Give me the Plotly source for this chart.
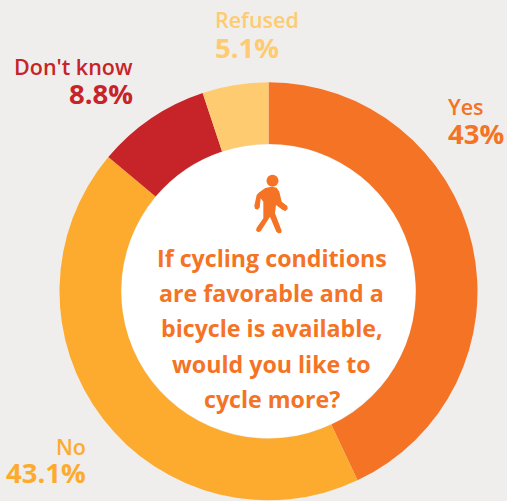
import plotly.graph_objects as go

categories = ["Yes", "No", "Don't know", "Refused"]
values = [43, 43.1, 8.8, 5.1]
value_labels = ["43%", "43.1%", "8.8%", "5.1%"]
colors = ["#F47324", "#FDAB2E", "#C62428", "#FECB71"]
question = ["If cycling conditions", "are favorable and a", "bicycle is available,", "would you like to", "cycle more?"]

W, H = 507, 501
FONT = "Open Sans"
ORANGE = colors[0]


def px(x):
    return x / W


def py(y):
    return 1 - y / H


fig = go.Figure(go.Pie(
    labels=categories, values=values, hole=0.705, sort=False, direction="clockwise",
    rotation=0, marker=dict(colors=colors, line=dict(width=0)), textinfo="none",
    hoverinfo="label+percent", showlegend=False,
    domain=dict(x=[px(59.5), px(477.5)], y=[py(500.5), py(82)]),
))


def label(x, y, text, color, size, anchor, weight=600):
    fig.add_annotation(
        x=px(x), y=py(y), xref="paper", yref="paper", text=text, showarrow=False,
        xanchor=anchor, yanchor="middle", font=dict(family=FONT, size=size, color=color, weight=weight),
    )


# x edge, name y, value y, anchor
placements = [(446, 106.5, 133, "left"), (88, 446, 472, "right"), (135, 66.5, 93, "right"), (213, 20, 47, "left")]
for name, val, col, (x, y1, y2, anc) in zip(categories, value_labels, colors, placements):
    label(x, y1, name, col, 21.5, anc)
    label(x, y2, val, col, 27.5, anc, 700)

for i, line in enumerate(question):
    label(271.5, 258 + i * 35.2, line, ORANGE, 23.2, "center", 700)

# walking figure
body = [(196, 84), (215, 80), (230, 83), (238, 95), (245, 125), (262, 138), (263, 147), (256, 153), (248, 150),
        (228, 135), (225, 160), (245, 212), (243, 219), (235, 220), (229, 215), (210, 170), (182, 214), (174, 217),
        (168, 211), (170, 203), (190, 175), (190, 125), (182, 115), (179, 143), (172, 149), (165, 146), (163, 137),
        (170, 105), (176, 98)]
path = "M " + " L ".join(f"{px(200 + a / 3):.5f},{py(160 + b / 3):.5f}" for a, b in body) + " Z"
fig.add_shape(type="path", path=path, xref="paper", yref="paper", fillcolor=ORANGE, line=dict(width=0))
fig.add_shape(type="circle", xref="paper", yref="paper", x0=px(266.5), x1=px(278.5), y0=py(186.7), y1=py(174.7),
              fillcolor=ORANGE, line=dict(width=0))

fig.add_shape(type="circle", xref="paper", yref="paper", x0=px(121.5), x1=px(415.5), y0=py(438), y1=py(144.5),
              fillcolor="white", line=dict(width=0), layer="below")

fig.update_layout(
    width=W, height=H, margin=dict(l=0, r=0, t=0, b=0), autosize=False,
    paper_bgcolor="#F0EEED", plot_bgcolor="#F0EEED",
)
fig.write_html(
    "out.html", config=dict(displayModeBar=False),
    post_script="document.body.style.margin='0';document.documentElement.style.overflow='hidden';",
)
